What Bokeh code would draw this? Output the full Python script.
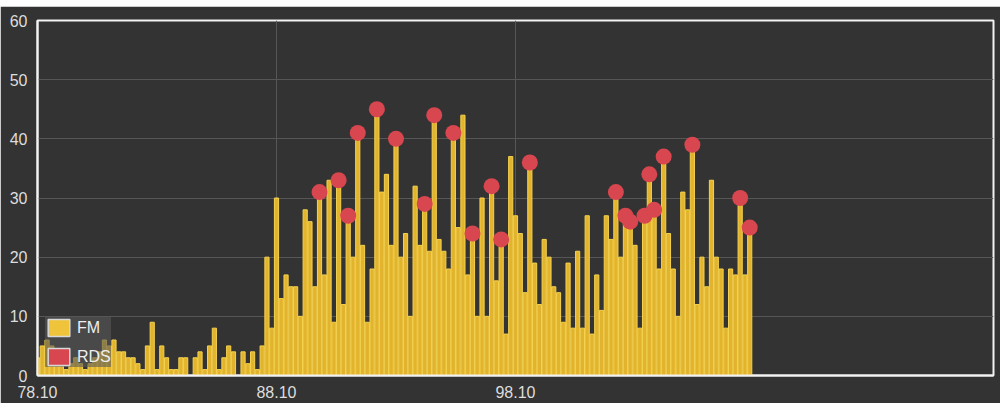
import numpy as np
from bokeh.plotting import figure
from bokeh.models import Range1d, FixedTicker, NumeralTickFormatter, Legend, LegendItem
from bokeh.embed import file_html
from bokeh.resources import INLINE

# ---------------- data ----------------
start_mhz = 78.1
step_mhz = 0.2

fm_level = [
    3, 5, 6, 5, 2, 3, 1, 2, 3, 2,
    1, 2, 3, 4, 6, 5, 6, 4, 4, 3,
    3, 2, 1, 5, 9, 1, 5, 3, 1, 1,
    3, 3, 0, 3, 4, 1, 5, 8, 1, 3,
    5, 4, 0, 4, 2, 4, 1, 5, 20, 8,
    30, 13, 17, 15, 15, 10, 28, 26, 15, 31,
    17, 33, 9, 33, 12, 27, 20, 41, 22, 9,
    18, 45, 31, 34, 22, 40, 20, 24, 10, 32,
    22, 29, 21, 44, 23, 21, 18, 41, 25, 44,
    17, 24, 10, 30, 10, 32, 16, 23, 7, 37,
    27, 24, 14, 36, 19, 12, 23, 20, 15, 14,
    9, 19, 8, 21, 8, 27, 7, 17, 11, 27,
    23, 31, 20, 27, 26, 22, 8, 27, 34, 28,
    18, 37, 24, 18, 10, 31, 28, 39, 12, 20,
    15, 33, 20, 18, 8, 18, 17, 30, 17, 25,
]

rds_freq = [89.9, 90.7, 91.1, 91.5, 92.3, 93.1, 94.3, 94.7, 95.5, 96.3,
            97.1, 97.5, 98.7, 102.3, 102.7, 102.9, 103.5, 103.7, 103.9,
            104.3, 105.5, 107.5, 107.9]
rds_level = [31, 33, 27, 41, 45, 40, 29, 44, 41, 24,
             32, 23, 36, 31, 27, 26, 27, 34, 28,
             37, 39, 30, 25]

x_ticks = [78.1, 88.1, 98.1]
y_ticks = [0, 10, 20, 30, 40, 50, 60]

fm_freq = np.round(start_mhz + step_mhz * np.arange(len(fm_level)), 1)

# ---------------- figure ----------------
BG = "#333333"
FONT = "Liberation Sans"

p = figure(width=1000, height=397,
           x_range=Range1d(78.1, 118.1), y_range=Range1d(0, 60),
           output_backend="svg", toolbar_location=None,
           background_fill_color=BG, border_fill_color=BG,
           min_border_left=37, min_border_right=7,
           min_border_top=14, min_border_bottom=28)

p.outline_line_color = "#f2f2f2"
p.outline_line_width = 2

p.vbar(x=fm_freq, top=fm_level, width=0.175,
       fill_color="#e2b42e", line_color="#f5d24e", line_width=1)
p.scatter(x=rds_freq, y=rds_level, size=16,
          fill_color="#d8464f", line_color=None)

# legend swatches: one entry each, placed outside the visible x range
leg_fm = p.quad(left=[500], right=[501], top=[1], bottom=[0],
                fill_color="#f0c43a", line_color="#d8d8d8", line_width=1.5)
leg_rds = p.quad(left=[500], right=[501], top=[1], bottom=[0],
                 fill_color="#d8464f", line_color="#d8d8d8", line_width=1.5)

legend = Legend(items=[LegendItem(label="FM", renderers=[leg_fm], index=0),
                       LegendItem(label="RDS", renderers=[leg_rds], index=0)],
                location="bottom_left",
                background_fill_color="#585858", background_fill_alpha=0.6,
                border_line_color=None,
                label_text_color="#eeeeee", label_text_font=FONT,
                label_text_font_size="16px",
                glyph_width=27, glyph_height=21,
                label_height=21,
                spacing=8, padding=7, margin=8, label_standoff=5)
p.add_layout(legend)

for ax in (p.xaxis, p.yaxis):
    ax.axis_line_color = "#f2f2f2"
    ax.axis_line_width = 2
    ax.major_tick_line_color = None
    ax.minor_tick_line_color = None
    ax.major_label_text_color = "#dddddd"
    ax.major_label_text_font = FONT
    ax.major_label_text_font_size = "16px"
    ax.major_label_standoff = 4

p.xaxis.ticker = FixedTicker(ticks=x_ticks)
p.xaxis.formatter = NumeralTickFormatter(format="0.00")
p.yaxis.ticker = FixedTicker(ticks=y_ticks)

p.xgrid.ticker = FixedTicker(ticks=x_ticks)
p.ygrid.ticker = FixedTicker(ticks=y_ticks)
p.grid.grid_line_color = "#565656"
p.grid.grid_line_width = 1

html = file_html(p, INLINE)
html = html.replace("</head>",
                    "<style>html,body{margin:0;padding:0;background:#ffffff}"
                    "body{padding-top:6px}</style></head>", 1)
open("out.html", "w").write(html)
